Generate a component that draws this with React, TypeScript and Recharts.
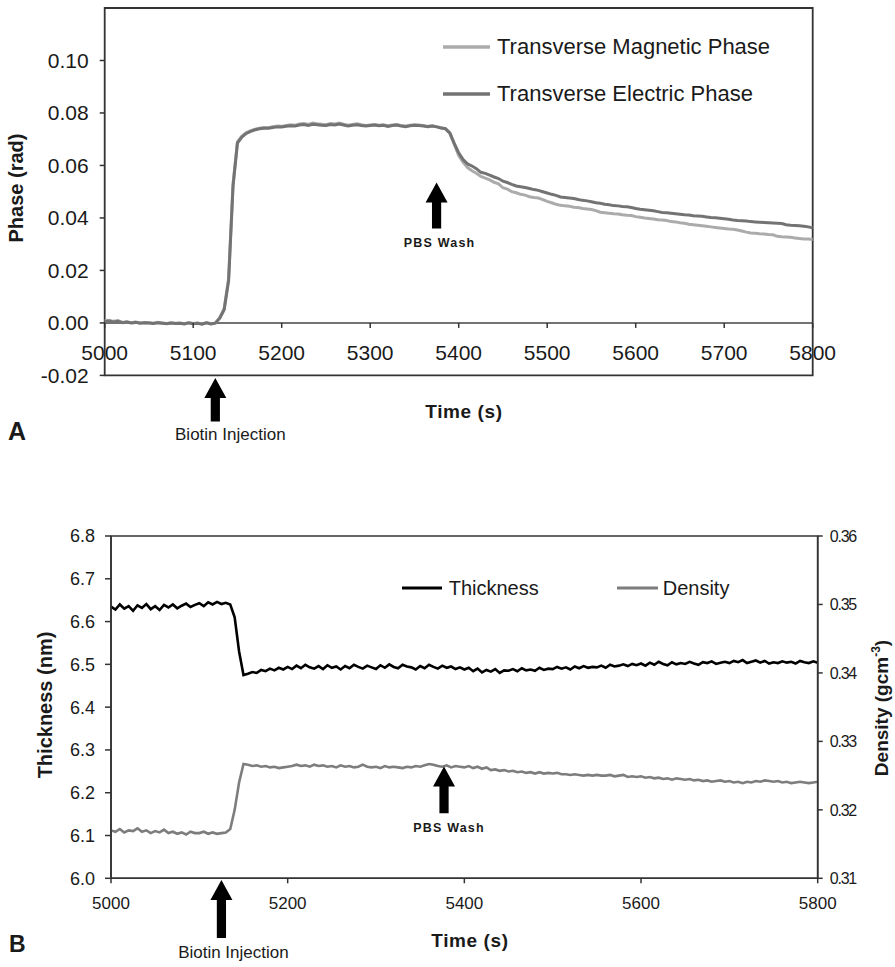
import React from 'react';
import {
  LineChart, Line, XAxis, YAxis, ReferenceArea, ReferenceLine, Legend,
} from 'recharts';

const FONT = "'Liberation Sans', Arial, sans-serif";

// ---------- data ----------
const TIME = [
  5000, 5005, 5010, 5015, 5020, 5025, 5030, 5035, 5040, 5045,
  5050, 5055, 5060, 5065, 5070, 5075, 5080, 5085, 5090, 5095,
  5100, 5105, 5110, 5115, 5120, 5125, 5130, 5135, 5140, 5145,
  5150, 5155, 5160, 5165, 5170, 5175, 5180, 5185, 5190, 5195,
  5200, 5205, 5210, 5215, 5220, 5225, 5230, 5235, 5240, 5245,
  5250, 5255, 5260, 5265, 5270, 5275, 5280, 5285, 5290, 5295,
  5300, 5305, 5310, 5315, 5320, 5325, 5330, 5335, 5340, 5345,
  5350, 5355, 5360, 5365, 5370, 5375, 5380, 5385, 5390, 5395,
  5400, 5405, 5410, 5415, 5420, 5425, 5430, 5435, 5440, 5445,
  5450, 5455, 5460, 5465, 5470, 5475, 5480, 5485, 5490, 5495,
  5500, 5505, 5510, 5515, 5520, 5525, 5530, 5535, 5540, 5545,
  5550, 5555, 5560, 5565, 5570, 5575, 5580, 5585, 5590, 5595,
  5600, 5605, 5610, 5615, 5620, 5625, 5630, 5635, 5640, 5645,
  5650, 5655, 5660, 5665, 5670, 5675, 5680, 5685, 5690, 5695,
  5700, 5705, 5710, 5715, 5720, 5725, 5730, 5735, 5740, 5745,
  5750, 5755, 5760, 5765, 5770, 5775, 5780, 5785, 5790, 5795,
  5800,
];

const TM_PHASE = [
  0.0008, 0.0010, 0.0006, 0.0009, 0.0002, 0.0004, 0.0001, 0.0003, 0.0000, 0.0002,
  0.0001, -0.0001, 0.0002, 0.0000, -0.0002, 0.0001, -0.0001, 0.0000, -0.0003, 0.0001,
  -0.0002, 0.0000, -0.0004, 0.0001, -0.0003, 0.0000, 0.0020, 0.0055, 0.0170, 0.0530,
  0.0690, 0.0712, 0.0725, 0.0733, 0.0738, 0.0742, 0.0745, 0.0744, 0.0748, 0.0750,
  0.0749, 0.0752, 0.0755, 0.0753, 0.0758, 0.0760, 0.0756, 0.0762, 0.0759, 0.0757,
  0.0755, 0.0760, 0.0758, 0.0762, 0.0757, 0.0753, 0.0756, 0.0759, 0.0755, 0.0752,
  0.0754, 0.0756, 0.0753, 0.0755, 0.0751, 0.0754, 0.0756, 0.0752, 0.0750, 0.0753,
  0.0755, 0.0754, 0.0752, 0.0749, 0.0751, 0.0748, 0.0744, 0.0740, 0.0722, 0.0680,
  0.0638, 0.0612, 0.0592, 0.0580, 0.0570, 0.0558, 0.0552, 0.0545, 0.0536, 0.0530,
  0.0515, 0.0510, 0.0500, 0.0496, 0.0490, 0.0487, 0.0481, 0.0478, 0.0476, 0.0470,
  0.0463, 0.0458, 0.0452, 0.0448, 0.0446, 0.0445, 0.0441, 0.0440, 0.0436, 0.0434,
  0.0432, 0.0428, 0.0422, 0.0420, 0.0418, 0.0416, 0.0415, 0.0412, 0.0410, 0.0409,
  0.0405, 0.0403, 0.0400, 0.0398, 0.0396, 0.0393, 0.0392, 0.0390, 0.0386, 0.0385,
  0.0382, 0.0380, 0.0376, 0.0374, 0.0372, 0.0370, 0.0368, 0.0366, 0.0364, 0.0362,
  0.0360, 0.0358, 0.0357, 0.0354, 0.0350, 0.0346, 0.0343, 0.0342, 0.0340, 0.0339,
  0.0337, 0.0336, 0.0330, 0.0328, 0.0327, 0.0326, 0.0324, 0.0322, 0.0320, 0.0320,
  0.0318,
];

const TE_PHASE = [
  0.0005, 0.0007, 0.0004, 0.0006, 0.0001, 0.0003, 0.0000, 0.0002, -0.0001, 0.0001,
  0.0000, -0.0002, 0.0001, -0.0001, -0.0003, 0.0000, -0.0002, -0.0001, -0.0004, 0.0000,
  -0.0003, -0.0001, -0.0005, 0.0000, -0.0004, -0.0001, 0.0018, 0.0050, 0.0160, 0.0520,
  0.0685, 0.0708, 0.0722, 0.0730, 0.0736, 0.0740, 0.0742, 0.0742, 0.0745, 0.0747,
  0.0747, 0.0749, 0.0751, 0.0750, 0.0754, 0.0756, 0.0752, 0.0757, 0.0755, 0.0753,
  0.0752, 0.0756, 0.0754, 0.0758, 0.0754, 0.0750, 0.0753, 0.0755, 0.0752, 0.0750,
  0.0752, 0.0754, 0.0751, 0.0753, 0.0749, 0.0752, 0.0754, 0.0750, 0.0748, 0.0751,
  0.0753, 0.0752, 0.0750, 0.0748, 0.0750, 0.0747, 0.0743, 0.0740, 0.0724, 0.0684,
  0.0648, 0.0622, 0.0606, 0.0598, 0.0588, 0.0574, 0.0570, 0.0563, 0.0556, 0.0550,
  0.0540, 0.0535, 0.0528, 0.0522, 0.0519, 0.0516, 0.0512, 0.0508, 0.0505, 0.0500,
  0.0495, 0.0490, 0.0486, 0.0480, 0.0478, 0.0476, 0.0474, 0.0470, 0.0467, 0.0465,
  0.0462, 0.0458, 0.0456, 0.0452, 0.0450, 0.0447, 0.0446, 0.0444, 0.0443, 0.0440,
  0.0436, 0.0433, 0.0431, 0.0429, 0.0427, 0.0424, 0.0421, 0.0420, 0.0418, 0.0416,
  0.0414, 0.0412, 0.0411, 0.0408, 0.0407, 0.0406, 0.0404, 0.0402, 0.0401, 0.0399,
  0.0397, 0.0395, 0.0392, 0.0390, 0.0389, 0.0388, 0.0386, 0.0385, 0.0384, 0.0383,
  0.0382, 0.0381, 0.0380, 0.0379, 0.0374, 0.0372, 0.0371, 0.0370, 0.0368, 0.0366,
  0.0362,
];

const THICKNESS = [
  6.635, 6.628, 6.640, 6.630, 6.636, 6.625, 6.638, 6.632, 6.641, 6.629,
  6.636, 6.627, 6.639, 6.633, 6.640, 6.631, 6.637, 6.642, 6.634, 6.639,
  6.643, 6.636, 6.645, 6.640, 6.646, 6.641, 6.644, 6.640, 6.610, 6.530,
  6.475, 6.478, 6.482, 6.480, 6.487, 6.484, 6.490, 6.486, 6.492, 6.488,
  6.494, 6.489, 6.497, 6.491, 6.499, 6.493, 6.490, 6.496, 6.489, 6.498,
  6.492, 6.495, 6.488, 6.496, 6.491, 6.499, 6.494, 6.490, 6.497, 6.493,
  6.489, 6.498, 6.492, 6.500, 6.494, 6.491, 6.499, 6.495, 6.493, 6.488,
  6.496, 6.491, 6.499, 6.494, 6.490, 6.497, 6.492, 6.495, 6.489, 6.493,
  6.488, 6.492, 6.484, 6.490, 6.481, 6.487, 6.483, 6.489, 6.480, 6.486,
  6.485, 6.489, 6.484, 6.491, 6.486, 6.488, 6.485, 6.492, 6.487, 6.490,
  6.489, 6.494, 6.490, 6.493, 6.488, 6.495, 6.491, 6.496, 6.492, 6.494,
  6.493, 6.497, 6.492, 6.499, 6.495, 6.497, 6.500, 6.496, 6.501, 6.498,
  6.502, 6.497, 6.504, 6.499, 6.506, 6.501, 6.498, 6.505, 6.500, 6.503,
  6.501, 6.506, 6.502, 6.499, 6.505, 6.503, 6.507, 6.501, 6.504, 6.506,
  6.503, 6.508, 6.505, 6.510, 6.503, 6.506, 6.509, 6.504, 6.508, 6.502,
  6.505, 6.503, 6.507, 6.504, 6.506, 6.502, 6.508, 6.505, 6.503, 6.507,
  6.504,
];

const DENSITY = [
  0.3170, 0.3168, 0.3172, 0.3167, 0.3170, 0.3169, 0.3173, 0.3168, 0.3170, 0.3166,
  0.3169, 0.3167, 0.3171, 0.3166, 0.3168, 0.3165, 0.3167, 0.3164, 0.3168, 0.3166,
  0.3166, 0.3168, 0.3165, 0.3167, 0.3165, 0.3166, 0.3167, 0.3172, 0.3200, 0.3240,
  0.3267, 0.3266, 0.3264, 0.3265, 0.3263, 0.3264, 0.3262, 0.3263, 0.3261, 0.3262,
  0.3263, 0.3264, 0.3266, 0.3264, 0.3265, 0.3263, 0.3266, 0.3264, 0.3265, 0.3263,
  0.3264, 0.3262, 0.3265, 0.3263, 0.3264, 0.3262, 0.3263, 0.3266, 0.3263, 0.3262,
  0.3263, 0.3261, 0.3264, 0.3262, 0.3263, 0.3262, 0.3261, 0.3263, 0.3262, 0.3264,
  0.3263, 0.3265, 0.3267, 0.3266, 0.3264, 0.3263, 0.3265, 0.3262, 0.3264, 0.3263,
  0.3262, 0.3264, 0.3261, 0.3263, 0.3260, 0.3262, 0.3258, 0.3259, 0.3257, 0.3258,
  0.3256, 0.3257, 0.3255, 0.3256, 0.3254, 0.3255, 0.3253, 0.3255, 0.3253, 0.3254,
  0.3253, 0.3254, 0.3252, 0.3252, 0.3251, 0.3252, 0.3251, 0.3250, 0.3251, 0.3250,
  0.3251, 0.3250, 0.3250, 0.3251, 0.3249, 0.3250, 0.3251, 0.3248, 0.3249, 0.3248,
  0.3249, 0.3247, 0.3248, 0.3246, 0.3247, 0.3245, 0.3246, 0.3244, 0.3246, 0.3245,
  0.3244, 0.3245, 0.3243, 0.3244, 0.3242, 0.3243, 0.3241, 0.3242, 0.3243, 0.3241,
  0.3242, 0.3240, 0.3241, 0.3239, 0.3241, 0.3240, 0.3242, 0.3241, 0.3243, 0.3242,
  0.3241, 0.3242, 0.3240, 0.3241, 0.3239, 0.3240, 0.3241, 0.3240, 0.3239, 0.3240,
  0.3241,
];

const A_X_TICKS = [5000, 5100, 5200, 5300, 5400, 5500, 5600, 5700, 5800];
const A_Y_TICKS = [-0.02, 0, 0.02, 0.04, 0.06, 0.08, 0.1];
const A_Y_DOMAIN = [-0.02, 0.12];
const B_X_TICKS = [5000, 5200, 5400, 5600, 5800];
const B_LEFT_TICKS = [6.0, 6.1, 6.2, 6.3, 6.4, 6.5, 6.6, 6.7, 6.8];
const B_RIGHT_TICKS = [0.31, 0.32, 0.33, 0.34, 0.35, 0.36];

// annotation arrows (data coordinates: time, bottom value, tip value)
const A_BIOTIN = { t: 5125, from: -0.0376, to: -0.021 };
const A_PBS = { t: 5375, from: 0.0360, to: 0.0535 };
const B_BIOTIN = { t: 5125, from: 5.8605, to: 5.996 };
const B_PBS = { t: 5377, from: 6.152, to: 6.261 };

const dataA = TIME.map((t, i) => ({ t, tm: TM_PHASE[i], te: TE_PHASE[i] }));
const dataB = TIME.map((t, i) => ({ t, th: THICKNESS[i], de: DENSITY[i] }));

// ---------- layout constants ----------
const A_MARGIN = { top: 8, right: 82.3, left: 44.7, bottom: 64.6 };
const A_H = 470;
const A_PLOT_H = A_H - A_MARGIN.top - A_MARGIN.bottom - 30;
const A_ZERO_SHIFT = (A_PLOT_H * (0 - A_Y_DOMAIN[0])) / (A_Y_DOMAIN[1] - A_Y_DOMAIN[0]);

const B_TOP = 480;
const B_H = 487;

const TEXT_COLOR = '#1a1a1a';
const AXIS_COLOR = '#333';

// ---------- helpers ----------
const makeArrow = (
  label: string, fontSize: number, dx: number, dy: number,
  letterSpacing: number, fontWeight: string | number,
) =>
  (props: any) => {
    const { x1, y1, x2, y2 } = props;
    if (x1 == null || y1 == null) return null;
    const x = x1;
    const top = Math.min(y1, y2);
    const bottom = Math.max(y1, y2);
    const hw = 11;
    const hh = 20;
    const sw = 4.6;
    const d = `M${x},${top} L${x + hw},${top + hh} L${x + sw},${top + hh} L${x + sw},${bottom} L${x - sw},${bottom} L${x - sw},${top + hh} L${x - hw},${top + hh} Z`;
    return (
      <g>
        <path d={d} fill="#000" />
        <text
          x={x + dx}
          y={bottom + dy}
          textAnchor="middle"
          fontFamily={FONT}
          fontSize={fontSize}
          fontWeight={fontWeight}
          letterSpacing={letterSpacing}
          fill={TEXT_COLOR}
        >
          {label}
        </text>
      </g>
    );
  };

const TickA = (props: any) => {
  const { x, y, payload } = props;
  const zy = y - A_ZERO_SHIFT;
  return (
    <g>
      <line x1={x} x2={x} y1={zy} y2={zy + 5} stroke={AXIS_COLOR} strokeWidth={1.5} />
      <text x={x} y={zy + 37.5} textAnchor="middle" fontFamily={FONT} fontSize={21} fill={TEXT_COLOR}>
        {payload.value}
      </text>
    </g>
  );
};

const orderPayload = (payload: any[] | undefined, order: string[]) =>
  [...(payload || [])].sort((a, b) => order.indexOf(a.dataKey) - order.indexOf(b.dataKey));

const LegendA = (props: any) => {
  const items = orderPayload(props.payload, ['tm', 'te']);
  return (
    <div style={{ fontFamily: FONT }}>
      {items.map((p: any) => (
        <div key={p.dataKey} style={{ display: 'flex', alignItems: 'center', height: 47 }}>
          <svg width={54} height={10} style={{ flex: 'none' }}>
            <line x1={0} x2={47} y1={5} y2={5} stroke={p.color} strokeWidth={3.5} />
          </svg>
          <span style={{ fontSize: 22, color: TEXT_COLOR, whiteSpace: 'nowrap' }}>{p.value}</span>
        </div>
      ))}
    </div>
  );
};

const LegendB = (props: any) => {
  const items = orderPayload(props.payload, ['th', 'de']);
  return (
    <div style={{ fontFamily: FONT, display: 'flex', alignItems: 'center', height: 30 }}>
      {items.map((p: any, i: number) => (
        <div key={p.dataKey} style={{ display: 'flex', alignItems: 'center', width: i === 0 ? 215 : 150 }}>
          <svg width={i === 0 ? 47 : 46} height={10} style={{ flex: 'none' }}>
            <line x1={0} x2={i === 0 ? 40 : 41} y1={5} y2={5} stroke={p.color} strokeWidth={3} />
          </svg>
          <span style={{ fontSize: 20, color: TEXT_COLOR, whiteSpace: 'nowrap' }}>{p.value}</span>
        </div>
      ))}
    </div>
  );
};

export default function App() {
  return (
    <div style={{ position: 'absolute', left: 0, top: 0, width: 895, height: 967, background: '#fff', overflow: 'hidden' }}>
      {/* Chart A */}
      <div style={{ position: 'absolute', left: 0, top: 0 }}>
        <LineChart width={895} height={A_H} data={dataA} margin={A_MARGIN}>
          <XAxis
            dataKey="t"
            type="number"
            domain={[5000, 5800]}
            ticks={A_X_TICKS}
            axisLine={false}
            tickLine={false}
            tickSize={0}
            tickMargin={0}
            height={30}
            tick={<TickA />}
            interval={0}
          />
          <YAxis
            type="number"
            domain={A_Y_DOMAIN}
            ticks={A_Y_TICKS}
            width={60}
            axisLine={false}
            tickSize={5}
            tickMargin={11}
            tickLine={{ stroke: AXIS_COLOR, strokeWidth: 1.5 }}
            tick={{ fontFamily: FONT, fontSize: 21, fill: TEXT_COLOR }}
            tickFormatter={(v: number) => v.toFixed(2)}
            interval={0}
          />
          <ReferenceArea x1={5000} x2={5800} y1={-0.02} y2={0.12} fill="none" stroke={AXIS_COLOR} strokeWidth={1.8} />
          <ReferenceLine y={0} stroke="#444" strokeWidth={1.5} />
          <Line dataKey="tm" name="Transverse Magnetic Phase" stroke="#ababab" strokeWidth={3} dot={false} isAnimationActive={false} type="linear" />
          <Line dataKey="te" name="Transverse Electric Phase" stroke="#737373" strokeWidth={3} dot={false} isAnimationActive={false} type="linear" />
          <ReferenceLine
            segment={[{ x: A_BIOTIN.t, y: A_BIOTIN.from }, { x: A_BIOTIN.t, y: A_BIOTIN.to }]}
            ifOverflow="visible"
            shape={makeArrow('Biotin Injection', 17, 15, 18.3, 0, 'normal')}
          />
          <ReferenceLine
            segment={[{ x: A_PBS.t, y: A_PBS.from }, { x: A_PBS.t, y: A_PBS.to }]}
            ifOverflow="visible"
            shape={makeArrow('PBS Wash', 12.5, 3, 19, 1.2, 600)}
          />
          <Legend
            layout="vertical"
            align="center"
            verticalAlign="middle"
            content={<LegendA />}
            wrapperStyle={{ left: 443, top: 23.5, width: 380, height: 94 }}
          />
        </LineChart>
      </div>

      {/* Chart B */}
      <div style={{ position: 'absolute', left: 0, top: B_TOP }}>
        <LineChart width={895} height={B_H} data={dataB} margin={{ top: 56, right: 17.3, left: 51, bottom: 58.7 }}>
          <XAxis
            dataKey="t"
            type="number"
            domain={[5000, 5800]}
            ticks={B_X_TICKS}
            height={30}
            axisLine={{ stroke: AXIS_COLOR, strokeWidth: 1.6 }}
            tickLine={{ stroke: AXIS_COLOR, strokeWidth: 1.5 }}
            tickSize={5}
            tickMargin={14}
            tick={{ fontFamily: FONT, fontSize: 17, fill: TEXT_COLOR }}
            interval={0}
          />
          <YAxis
            yAxisId="left"
            type="number"
            domain={[6.0, 6.8]}
            ticks={B_LEFT_TICKS}
            width={60}
            axisLine={{ stroke: AXIS_COLOR, strokeWidth: 1.6 }}
            tickLine={{ stroke: AXIS_COLOR, strokeWidth: 1.5 }}
            tickSize={6}
            tickMargin={10}
            tick={{ fontFamily: FONT, fontSize: 18, fill: TEXT_COLOR }}
            tickFormatter={(v: number) => v.toFixed(1)}
            interval={0}
          />
          <YAxis
            yAxisId="right"
            orientation="right"
            type="number"
            domain={[0.31, 0.36]}
            ticks={B_RIGHT_TICKS}
            width={60}
            axisLine={{ stroke: AXIS_COLOR, strokeWidth: 1.6 }}
            tickLine={{ stroke: AXIS_COLOR, strokeWidth: 1.5 }}
            tickSize={5}
            tickMargin={7}
            tick={{ fontFamily: FONT, fontSize: 16, fill: TEXT_COLOR, letterSpacing: -1.2 }}
            tickFormatter={(v: number) => v.toFixed(2)}
            interval={0}
          />
          <ReferenceArea yAxisId="left" x1={5000} x2={5800} y1={6.0} y2={6.8} fill="none" stroke={AXIS_COLOR} strokeWidth={1.6} />
          <Line yAxisId="left" dataKey="th" name="Thickness" stroke="#000" strokeWidth={2.6} dot={false} isAnimationActive={false} type="linear" />
          <Line yAxisId="right" dataKey="de" name="Density" stroke="#7d7d7d" strokeWidth={2.6} dot={false} isAnimationActive={false} type="linear" />
          <ReferenceLine
            yAxisId="left"
            segment={[{ x: B_BIOTIN.t, y: B_BIOTIN.from }, { x: B_BIOTIN.t, y: B_BIOTIN.to }]}
            ifOverflow="visible"
            shape={makeArrow('Biotin Injection', 17, 12, 20, 0, 'normal')}
          />
          <ReferenceLine
            yAxisId="left"
            segment={[{ x: B_PBS.t, y: B_PBS.from }, { x: B_PBS.t, y: B_PBS.to }]}
            ifOverflow="visible"
            shape={makeArrow('PBS Wash', 12.5, 5, 19, 1.2, 600)}
          />
          <Legend
            layout="vertical"
            align="center"
            verticalAlign="middle"
            content={<LegendB />}
            wrapperStyle={{ left: 401.7, top: 93, width: 400, height: 30 }}
          />
        </LineChart>
      </div>

      {/* titles and panel letters */}
      <svg width={895} height={967} style={{ position: 'absolute', left: 0, top: 0, pointerEvents: 'none' }}>
        <g fontFamily={FONT} fill={TEXT_COLOR} fontWeight="bold">
          <text transform="translate(22.5,188) rotate(-90)" textAnchor="middle" fontSize={20}>Phase (rad)</text>
          <text x={464} y={417.5} textAnchor="middle" fontSize={19} letterSpacing={0.6}>Time (s)</text>
          <text x={8} y={440} fontSize={25}>A</text>
          <text transform="translate(51.5,705) rotate(-90)" textAnchor="middle" fontSize={20}>Thickness (nm)</text>
          <text transform="translate(888,708) rotate(-90)" textAnchor="middle" fontSize={19}>
            Density (gcm
            <tspan fontSize={12} dy={-8}>-3</tspan>
            <tspan dy={8}>)</tspan>
          </text>
          <text x={470} y={947} textAnchor="middle" fontSize={19} letterSpacing={0.6}>Time (s)</text>
          <text x={9} y={952} fontSize={23}>B</text>
        </g>
      </svg>
    </div>
  );
}
